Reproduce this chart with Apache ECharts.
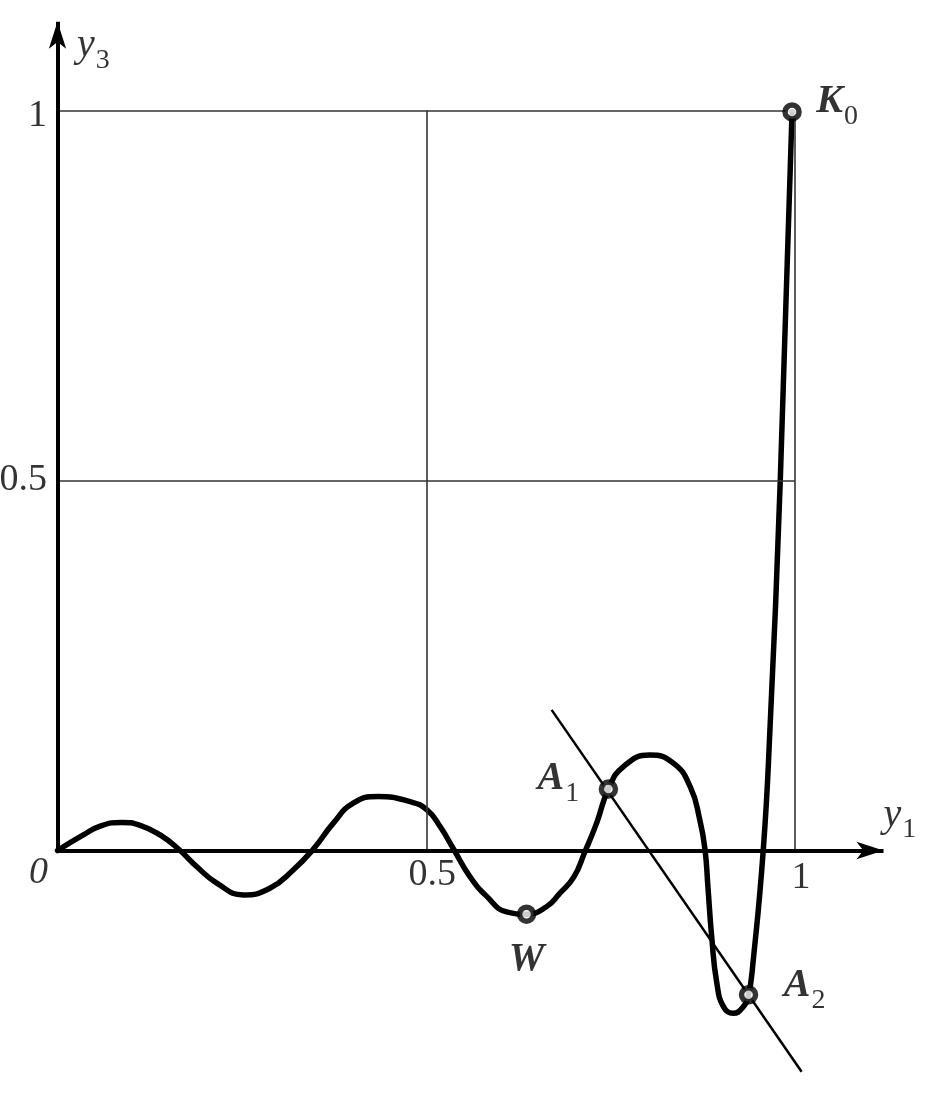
<!DOCTYPE html>
<html>
<head>
<meta charset="utf-8">
<script src="https://cdn.jsdelivr.net/npm/echarts@6/dist/echarts.min.js"></script>
<style>
html,body{margin:0;padding:0;background:#fff;}
#c{width:946px;height:1095px;}
</style>
</head>
<body>
<div id="c"></div>
<script>
// ---- data ----
const curveX = [0, 0.035, 0.058, 0.087, 0.112, 0.139, 0.164, 0.189, 0.216, 0.252, 0.288, 0.320, 0.347, 0.374, 0.401, 0.435, 0.478, 0.501, 0.519, 0.537, 0.559, 0.582, 0.609, 0.636, 0.663, 0.681, 0.700, 0.715, 0.731, 0.747, 0.767, 0.803, 0.835, 0.858, 0.871, 0.878, 0.882, 0.887, 0.894, 0.903, 0.916, 0.930, 0.937, 0.943, 0.957, 0.966, 0.980, 0.996];
const curveY = [0, 0.021, 0.033, 0.038, 0.034, 0.021, 0.002, -0.022, -0.044, -0.060, -0.051, -0.026, 0.002, 0.037, 0.064, 0.073, 0.066, 0.055, 0.032, 0.002, -0.035, -0.062, -0.083, -0.086, -0.076, -0.058, -0.036, -0.002, 0.037, 0.083, 0.113, 0.129, 0.118, 0.086, 0.041, 0.001, -0.050, -0.116, -0.179, -0.211, -0.220, -0.211, -0.195, -0.152, 0.001, 0.163, 0.499, 0.998];
const secantX = [0.670, 1.009];
const secantY = [0.190, -0.299];
const pointNames = ['K', 'A', 'A', 'W'];
const pointSubs = ['0', '1', '2', ''];
const pointX = [0.996, 0.747, 0.937, 0.636];
const pointY = [0.998, 0.083, -0.195, -0.086];
const xTicks = [0, 0.5, 1];
const xTickLabels = ['0', '0.5', '1'];
const yTicks = [0.5, 1];
const yTickLabels = ['0.5', '1'];
const axisEnd = 1.12;
const xName = ['y', '1'];
const yName = ['y', '3'];

// ---- styles / layout ----
const FONT = 'Liberation Serif';
const INK = '#000';
const rich = {
  m: {fontFamily: FONT, fontSize: 40, fontStyle: 'italic', fontWeight: 'bold', color: INK, lineHeight: 40},
  n: {fontFamily: FONT, fontSize: 40, fontStyle: 'italic', color: INK, lineHeight: 40},
  s: {fontFamily: FONT, fontSize: 28, color: INK, lineHeight: 28, padding: [30, 0, 0, 1]}
};
const pointLabelPlace = [
  {position: 'right', distance: 14.5, offset: [0, -10]},
  {position: 'left', distance: 19.5, offset: [0, -10]},
  {position: 'right', distance: 25.5, offset: [0, -9]},
  {position: 'inside', distance: 0, offset: [0, 46]}
];

const gridSegs = [];
yTicks.forEach(v => gridSegs.push([{coord: [0, v]}, {coord: [xTicks[xTicks.length - 1], v]}]));
xTicks.filter(v => v > 0).forEach(v => gridSegs.push([{coord: [v, 0]}, {coord: [v, yTicks[yTicks.length - 1]]}]));

const chart = echarts.init(document.getElementById('c'), null, {renderer: 'canvas'});
chart.setOption({
  backgroundColor: '#fff',
  animation: false,
  grid: {left: 57.5, right: 3.5, top: 6.9, bottom: 15.1},
  xAxis: {type: 'value', min: 0, max: 1.2, show: false},
  yAxis: {type: 'value', min: -0.31, max: 1.14, show: false},
  series: [
    {
      type: 'line', data: [[0, 0]], symbol: 'none', lineStyle: {width: 0}, silent: true, z: 1,
      markLine: {silent: true, symbol: 'none', label: {show: false},
        lineStyle: {color: '#333', width: 1.6, type: 'solid'}, data: gridSegs}
    },
    {
      type: 'line', data: [[0, 0]], symbol: 'none', lineStyle: {width: 0}, silent: true, z: 2,
      markLine: {silent: true, symbol: ['none', 'arrow'], symbolSize: [13, 27], label: {show: false},
        lineStyle: {color: INK, width: 4, type: 'solid'},
        data: [[{coord: [0, 0]}, {coord: [axisEnd, 0]}], [{coord: [0, 0]}, {coord: [0, axisEnd]}]]}
    },
    {
      type: 'line', symbol: 'none', z: 3,
      data: secantX.map((x, i) => [x, secantY[i]]),
      lineStyle: {color: INK, width: 2.5}
    },
    {
      type: 'line', symbol: 'none', z: 4, smooth: 0.5,
      data: curveX.map((x, i) => [x, curveY[i]]),
      lineStyle: {color: '#000', width: 5.5, cap: 'round', join: 'round'}
    },
    {
      type: 'scatter', z: 5, symbol: 'circle', symbolSize: 14,
      itemStyle: {color: '#fff', borderColor: '#000', borderWidth: 5.5},
      data: pointX.map((x, i) => ({
        value: [x, pointY[i]],
        label: Object.assign({show: true, rich: rich,
          formatter: '{m|' + pointNames[i] + '}' + (pointSubs[i] ? '{s|' + pointSubs[i] + '}' : '')},
          pointLabelPlace[i])
      }))
    },
    {
      type: 'scatter', z: 6, symbolSize: 0, silent: true,
      data: xTicks.map((v, i) => ({
        value: [v, 0],
        label: {show: true, position: 'inside', formatter: xTickLabels[i],
          fontFamily: FONT, fontSize: 38, color: INK, fontStyle: v === 0 ? 'italic' : 'normal',
          offset: v === 0 ? [-19, 23] : [6, 25 + (v === 1 ? 3 : 0)]}
      })).concat(yTicks.map((v, i) => ({
        value: [0, v],
        label: {show: true, position: 'inside', align: 'right', formatter: yTickLabels[i],
          fontFamily: FONT, fontSize: 38, color: INK, offset: [-10.5, v === 1 ? 6 : 0]}
      })))
    },
    {
      type: 'scatter', z: 6, symbolSize: 0, silent: true,
      data: [
        {value: [axisEnd, 0], label: {show: true, position: 'inside', align: 'left', rich: rich,
          formatter: '{n|' + xName[0] + '}{s|' + xName[1] + '}', offset: [0, -35.5]}},
        {value: [0, axisEnd], label: {show: true, position: 'inside', align: 'left', rich: rich,
          formatter: '{n|' + yName[0] + '}{s|' + yName[1] + '}', offset: [19.5, 24]}}
      ]
    }
  ]
});
</script>
</body>
</html>
